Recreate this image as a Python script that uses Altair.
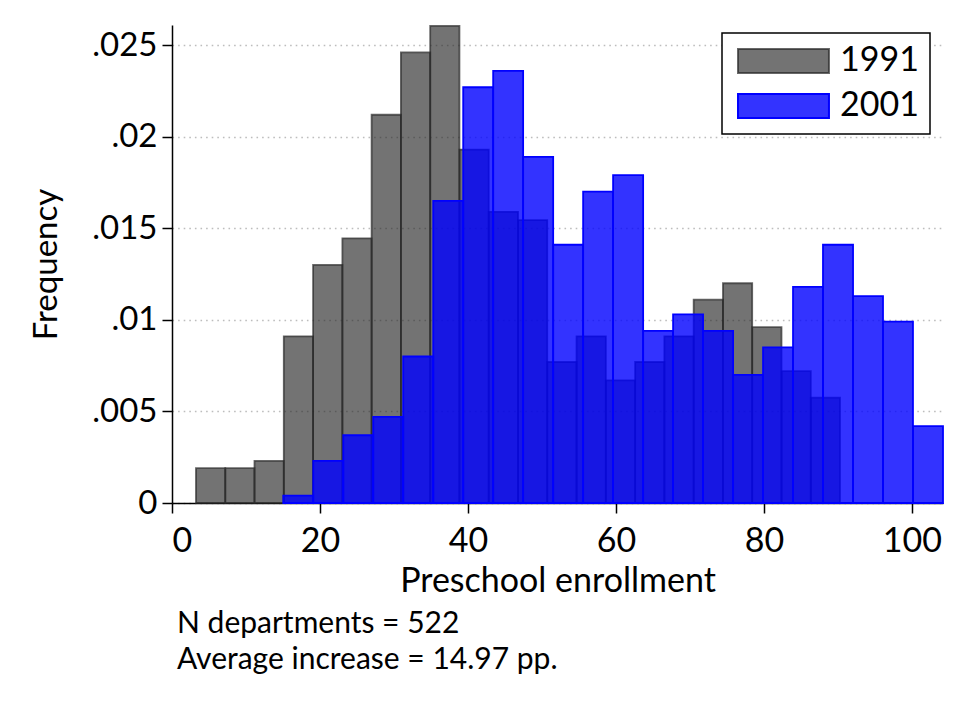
import altair as alt
import pandas as pd

# 1991 histogram (22 bins)
edges_1991 = [3.24, 7.20, 11.15, 15.11, 19.07, 23.03, 26.98, 30.94, 34.90, 38.85, 42.81,
              46.77, 50.72, 54.68, 58.64, 62.60, 66.55, 70.51, 74.47, 78.42, 82.38, 86.34, 90.29]
freq_1991 = [0.0019, 0.0019, 0.0023, 0.0091, 0.0130, 0.01445, 0.0212, 0.0246, 0.02605, 0.0193,
             0.0159, 0.01545, 0.0077, 0.0091, 0.0067, 0.0077, 0.0091, 0.0111, 0.0120, 0.0096,
             0.0072, 0.00575]

# 2001 histogram (22 bins)
edges_2001 = [15.04, 19.09, 23.15, 27.20, 31.25, 35.31, 39.36, 43.41, 47.46, 51.52, 55.57,
              59.62, 63.68, 67.73, 71.78, 75.84, 79.89, 83.94, 87.99, 92.05, 96.10, 100.15, 104.21]
freq_2001 = [0.0004, 0.0023, 0.0037, 0.0047, 0.0080, 0.0165, 0.0227, 0.0236, 0.0189, 0.0141,
             0.0170, 0.0179, 0.0094, 0.0103, 0.0094, 0.0070, 0.0085, 0.0118, 0.0141, 0.0113,
             0.0099, 0.0042]

years = ["1991", "2001"]
notes = ["N departments = 522", "Average increase = 14.97 pp."]

rows = []
for yr, edges, freq in [("1991", edges_1991, freq_1991), ("2001", edges_2001, freq_2001)]:
    for i, f in enumerate(freq):
        rows.append({"year": yr, "lo": edges[i], "hi": edges[i + 1], "freq": f})
df = pd.DataFrame(rows)

FONT = "Lato"

chart = alt.Chart(df).mark_rect(strokeWidth=1.8).encode(
    x=alt.X("lo:Q", scale=alt.Scale(domain=[0, 104.21], nice=False, zero=False),
            axis=alt.Axis(values=[0, 20, 40, 60, 80, 100], title="Preschool enrollment",
                          grid=False, labelFontSize=34, titleFontSize=34,
                          labelPadding=11, titlePadding=6)),
    x2="hi:Q",
    y=alt.Y("freq:Q", scale=alt.Scale(domain=[0, 0.0261], nice=False),
            axis=alt.Axis(values=[0, 0.005, 0.01, 0.015, 0.02, 0.025], title="Frequency",
                          labelExpr="datum.value == 0 ? '0' : replace(format(datum.value, '.3~f'), '0.', '.')",
                          grid=True, gridColor="#bdbdbd", gridDash=[1.6, 4], gridWidth=1.6,
                          labelFontSize=33, titleFontSize=33, labelPadding=5, titlePadding=28)),
    y2=alt.datum(0),
    fill=alt.Fill("year:N", scale=alt.Scale(domain=years, range=["rgba(36,36,36,0.64)", "rgba(0,0,255,0.8)"]),
                  legend=alt.Legend(title=None, orient="none", legendX=550, legendY=8,
                                    symbolType="M-1,-1L6.58,-1L6.58,1L-1,1Z",
                                    symbolSize=576, symbolStrokeWidth=2, symbolOpacity=1,
                                    labelFontSize=34, labelOffset=73, rowPadding=11,
                                    padding=11, strokeColor="black", fillColor="white")),
    stroke=alt.Stroke("year:N", scale=alt.Scale(domain=years, range=["rgba(40,40,40,0.7)", "#0000ff"]),
                      legend=None),
    order=alt.Order("year:N"),
).properties(
    width=771, height=478,
    title=alt.TitleParams(text=notes, orient="bottom", anchor="start", frame="group",
                          fontSize=30, font=FONT, fontWeight="normal", offset=11, lineHeight=36,
                          dx=5, color="black"),
    autosize=alt.AutoSizeParams(type="none"),
    padding={"left": 172, "top": 25, "right": 32, "bottom": 196},
).configure(
    font=FONT,
).configure_axis(
    labelFont=FONT, titleFont=FONT, labelColor="black", titleColor="black",
    domainColor="black", domainWidth=1.5, tickColor="black", tickWidth=1.5, tickSize=10,
    titleFontWeight="normal",
).configure_legend(
    labelFont=FONT, labelColor="black", strokeWidth=1.5,
).configure_view(stroke=None)

chart.save("out.html", embed_options={"renderer": "svg", "actions": False})
